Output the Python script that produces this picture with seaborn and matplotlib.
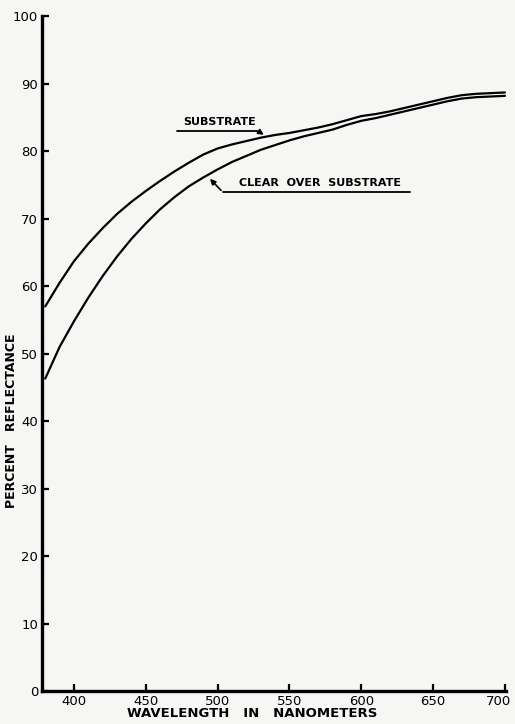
import matplotlib
matplotlib.use("Agg")
import matplotlib.pyplot as plt
import matplotlib.transforms as mtransforms
import seaborn as sns
import pandas as pd

# ---- data ----
wavelength_nm = [380, 390, 400, 410, 420, 430, 440, 450, 460, 470, 480, 490, 500,
                 510, 520, 530, 540, 550, 560, 570, 580, 590, 600, 610, 620, 630,
                 640, 650, 660, 670, 680, 690, 700]
substrate_pct = [57.0, 60.5, 63.7, 66.3, 68.6, 70.7, 72.5, 74.1, 75.6, 77.0, 78.3, 79.5, 80.4,
                 81.0, 81.5, 82.0, 82.4, 82.7, 83.1, 83.5, 84.0, 84.6, 85.2, 85.5, 85.9, 86.4,
                 86.9, 87.4, 87.9, 88.3, 88.5, 88.6, 88.7]
clear_pct = [46.3, 51.0, 54.8, 58.3, 61.5, 64.4, 67.0, 69.3, 71.4, 73.2, 74.8, 76.1, 77.3,
             78.4, 79.3, 80.2, 80.9, 81.6, 82.2, 82.7, 83.2, 83.9, 84.5, 84.9, 85.4, 85.9,
             86.4, 86.9, 87.4, 87.8, 88.0, 88.1, 88.2]

x_ticks = [400, 450, 500, 550, 600, 650, 700]
y_ticks = [0, 10, 20, 30, 40, 50, 60, 70, 80, 90, 100]

df = pd.concat([
    pd.DataFrame({"nm": wavelength_nm, "pct": substrate_pct, "series": "SUBSTRATE"}),
    pd.DataFrame({"nm": wavelength_nm, "pct": clear_pct, "series": "CLEAR OVER SUBSTRATE"}),
])

sns.set_theme(style="ticks")
plt.rcParams["font.family"] = ["DejaVu Sans"]
plt.rcParams["text.color"] = "black"
plt.rcParams["axes.labelcolor"] = "black"

bg = "#f6f6f4"
fig = plt.figure(figsize=(5.15, 7.24), dpi=100, facecolor=bg)
ax = fig.add_axes([0.0823, 0.0456, 0.901, 0.932])
ax.set_facecolor(bg)

sns.lineplot(data=df, x="nm", y="pct", units="series", estimator=None,
             color="black", linewidth=1.6, ax=ax, legend=False)

ax.set_xlim(378, 701)
ax.set_ylim(0, 100)
ax.set_xticks(x_ticks)
ax.set_yticks(y_ticks)
ax.tick_params(direction="in", length=5, width=1.6, labelsize=9.5, pad=3, colors="black")

# nudge the last x tick label left so it stays inside the figure
last = ax.get_xticklabels()[-1]
last.set_transform(last.get_transform() + mtransforms.ScaledTranslation(-5 / 72, 0, fig.dpi_scale_trans))

for s in ["top", "right"]:
    ax.spines[s].set_visible(False)
for s in ["left", "bottom"]:
    ax.spines[s].set_linewidth(2.4)
    ax.spines[s].set_color("black")

ax.set_xlabel("WAVELENGTH   IN   NANOMETERS", fontsize=9.5, fontweight="bold", color="black")
ax.set_ylabel("PERCENT   REFLECTANCE", fontsize=9, fontweight="bold", color="black")
ax.xaxis.set_label_coords(0.452, -0.024)
ax.yaxis.set_label_coords(-0.052, 0.40)

# annotations
ax.text(501.6, 83.6, "SUBSTRATE", fontsize=8, fontweight="bold", ha="center", va="bottom", color="black")
ax.plot([471.6, 528], [83.0, 83.0], color="black", lw=1.3)
ax.annotate("", xy=(533.8, 82.2), xytext=(528, 83.0),
            arrowprops=dict(arrowstyle="-|>", color="black", lw=1.2, mutation_scale=8))

ax.text(571.2, 74.5, "CLEAR  OVER  SUBSTRATE", fontsize=8, fontweight="bold", ha="center", va="bottom", color="black")
ax.plot([503.7, 633.8], [73.9, 73.9], color="black", lw=1.3)
ax.annotate("", xy=(493.3, 76.2), xytext=(503.7, 73.9),
            arrowprops=dict(arrowstyle="-|>", color="black", lw=1.2, mutation_scale=8))

fig.savefig("out.png", dpi=100, facecolor=bg)
